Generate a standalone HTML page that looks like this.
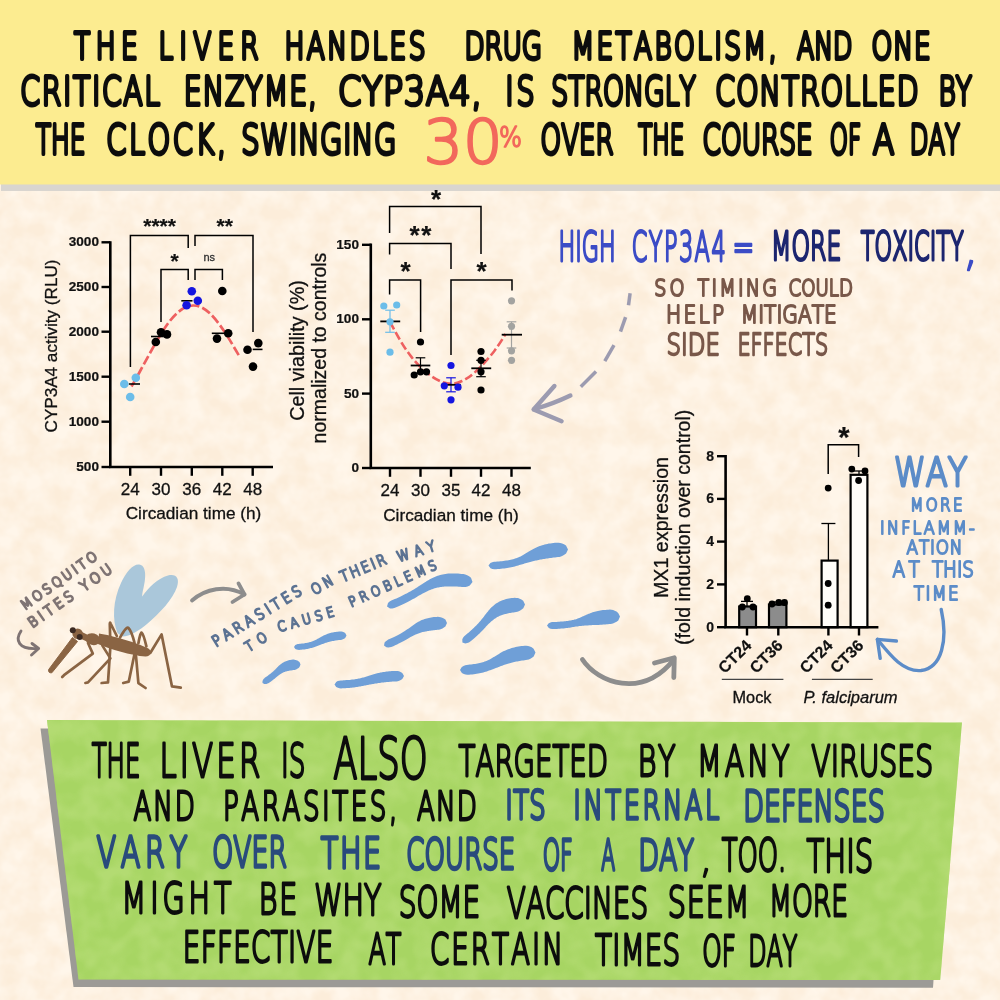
<!DOCTYPE html>
<html lang="en"><head><meta charset="utf-8"><title>Liver clock infographic</title>
<style>
html,body{margin:0;padding:0;background:#fdf0de;}
body{width:1000px;height:1000px;overflow:hidden;}
svg{display:block;font-family:"Liberation Sans",Arial,sans-serif;}
.hw text{font-family:"DejaVu Sans","Liberation Sans",sans-serif;font-weight:200;font-kerning:none;stroke-linejoin:round;stroke-linecap:round;paint-order:stroke;vector-effect:non-scaling-stroke;}
</style></head><body>
<svg width="1000" height="1000" viewBox="0 0 1000 1000">
<defs>
<filter id="paper" x="0" y="0" width="100%" height="100%">
<feTurbulence type="fractalNoise" baseFrequency="0.045" numOctaves="3" seed="7" result="n"/>
<feColorMatrix in="n" type="matrix" values="0 0 0 0 1  0 0 0 0 1  0 0 0 0 1  2.2 0 0 0 -0.6" result="m"/>
<feComposite in="SourceGraphic" in2="m" operator="in"/>
</filter>
<filter id="paper2" x="0" y="0" width="100%" height="100%">
<feTurbulence type="fractalNoise" baseFrequency="0.05" numOctaves="2" seed="11" result="n"/>
<feColorMatrix in="n" type="matrix" values="0 0 0 0 1  0 0 0 0 1  0 0 0 0 1  2.4 0 0 0 -0.8" result="m"/>
<feComposite in="SourceGraphic" in2="m" operator="in"/>
</filter>
</defs>
<rect width="1000" height="1000" fill="#fcedda"/>
<rect width="1000" height="1000" fill="#fff6ea" filter="url(#paper)"/>
<rect x="1" y="184" width="999" height="7" fill="#d9d5cf"/>
<rect x="0" y="0" width="1000" height="184.5" fill="#fcec90"/>
<polygon points="40.5,728.5 950,731 933,987.7 73.5,987" fill="#9c9a96"/>
<polygon points="47,720 962,722.6 940.2,980 78.5,979.6" fill="#a7d563"/>
<polygon points="47,720 962,722.6 940.2,980 78.5,979.6" fill="#b6dd76" opacity="0.8" filter="url(#paper2)"/>
<g class="hw">
<text transform="translate(74.12 58.64) scale(0.7200 1)" font-size="36.74" letter-spacing="7.49" textLength="95.75" lengthAdjust="spacing" fill="#0d0d0d" stroke="#0d0d0d" stroke-width="3.4">THE</text>
<text transform="translate(158.47 58.64) scale(0.7200 1)" font-size="36.74" letter-spacing="8.52" textLength="147.75" lengthAdjust="spacing" fill="#0d0d0d" stroke="#0d0d0d" stroke-width="3.4">LIVER</text>
<text transform="translate(284.48 58.64) scale(0.7200 1)" font-size="36.74" letter-spacing="3.38" textLength="199.18" lengthAdjust="spacing" fill="#0d0d0d" stroke="#0d0d0d" stroke-width="3.4">HANDLES</text>
<text transform="translate(464.53 58.64) scale(0.7104 1)" font-size="36.74" letter-spacing="0.00" textLength="109.16" lengthAdjust="spacing" fill="#0d0d0d" stroke="#0d0d0d" stroke-width="3.4">DRUG</text>
<text transform="translate(571.45 58.64) scale(0.7200 1)" font-size="36.74" letter-spacing="3.19" textLength="288.48" lengthAdjust="spacing" fill="#0d0d0d" stroke="#0d0d0d" stroke-width="3.4">METABOLISM,</text>
<text transform="translate(796.95 58.64) scale(0.6855 1)" font-size="36.74" letter-spacing="0.00" textLength="80.90" lengthAdjust="spacing" fill="#0d0d0d" stroke="#0d0d0d" stroke-width="3.4">AND</text>
<text transform="translate(871.54 58.64) scale(0.7200 1)" font-size="36.74" letter-spacing="1.25" textLength="83.36" lengthAdjust="spacing" fill="#0d0d0d" stroke="#0d0d0d" stroke-width="3.4">ONE</text>
<text transform="translate(20.34 105.14) scale(0.7200 1)" font-size="39.48" letter-spacing="2.18" textLength="196.41" lengthAdjust="spacing" fill="#0d0d0d" stroke="#0d0d0d" stroke-width="3.4">CRITICAL</text>
<text transform="translate(183.74 105.14) scale(0.7200 1)" font-size="39.48" letter-spacing="1.34" textLength="186.60" lengthAdjust="spacing" fill="#0d0d0d" stroke="#0d0d0d" stroke-width="3.4">ENZYME,</text>
<text transform="translate(337.91 105.14) scale(0.8500 1)" font-size="39.48" letter-spacing="0.67" textLength="169.97" lengthAdjust="spacing" fill="#0d0d0d" stroke="#0d0d0d" stroke-width="3.4">CYP3A4,</text>
<text transform="translate(505.26 105.14) scale(0.7200 1)" font-size="39.48" letter-spacing="4.07" textLength="44.85" lengthAdjust="spacing" fill="#0d0d0d" stroke="#0d0d0d" stroke-width="3.4">IS</text>
<text transform="translate(551.33 105.14) scale(0.6760 1)" font-size="39.48" letter-spacing="0.00" textLength="213.91" lengthAdjust="spacing" fill="#0d0d0d" stroke="#0d0d0d" stroke-width="3.4">STRONGLY</text>
<text transform="translate(715.34 105.14) scale(0.7200 1)" font-size="39.48" letter-spacing="1.36" textLength="283.77" lengthAdjust="spacing" fill="#0d0d0d" stroke="#0d0d0d" stroke-width="3.4">CONTROLLED</text>
<text transform="translate(938.45 105.14) scale(0.6700 1)" font-size="39.48" letter-spacing="0.00" textLength="49.97" lengthAdjust="spacing" fill="#0d0d0d" stroke="#0d0d0d" stroke-width="3.4">BY</text>
<text transform="translate(35.65 154.14) scale(0.6227 1)" font-size="40.16" letter-spacing="0.00" textLength="80.11" lengthAdjust="spacing" fill="#0d0d0d" stroke="#0d0d0d" stroke-width="3.4">THE</text>
<text transform="translate(106.30 154.14) scale(0.7200 1)" font-size="40.16" letter-spacing="3.47" textLength="169.99" lengthAdjust="spacing" fill="#0d0d0d" stroke="#0d0d0d" stroke-width="3.4">CLOCK,</text>
<text transform="translate(241.13 154.14) scale(0.7200 1)" font-size="40.16" letter-spacing="0.63" textLength="216.25" lengthAdjust="spacing" fill="#0d0d0d" stroke="#0d0d0d" stroke-width="3.4">SWINGING</text>
<text transform="translate(540.57 154.14) scale(0.6508 1)" font-size="40.16" letter-spacing="0.00" textLength="112.37" lengthAdjust="spacing" fill="#0d0d0d" stroke="#0d0d0d" stroke-width="3.4">OVER</text>
<text transform="translate(638.19 154.14) scale(0.5764 1)" font-size="40.16" letter-spacing="0.00" textLength="80.11" lengthAdjust="spacing" fill="#0d0d0d" stroke="#0d0d0d" stroke-width="3.4">THE</text>
<text transform="translate(702.51 154.14) scale(0.6563 1)" font-size="40.16" letter-spacing="0.00" textLength="167.84" lengthAdjust="spacing" fill="#0d0d0d" stroke="#0d0d0d" stroke-width="3.4">COURSE</text>
<text transform="translate(829.82 154.14) scale(0.5740 1)" font-size="40.16" letter-spacing="0.00" textLength="54.72" lengthAdjust="spacing" fill="#0d0d0d" stroke="#0d0d0d" stroke-width="3.4">OF</text>
<text transform="translate(872.76 154.14) scale(0.7857 1)" font-size="40.16" letter-spacing="0.00" textLength="27.48" lengthAdjust="spacing" fill="#0d0d0d" stroke="#0d0d0d" stroke-width="3.4">A</text>
<text transform="translate(909.75 154.14) scale(0.6043 1)" font-size="40.16" letter-spacing="0.00" textLength="82.94" lengthAdjust="spacing" fill="#0d0d0d" stroke="#0d0d0d" stroke-width="3.4">DAY</text>
<text transform="translate(423.46 163.04) scale(1.0281 1)" font-size="60.47" letter-spacing="0.00" textLength="76.94" lengthAdjust="spacing" fill="#f2685c" stroke="#f2685c" stroke-width="2.4">30</text>
<text transform="translate(499.02 147.36) scale(0.8513 1)" font-size="28.42" letter-spacing="0.00" textLength="27.01" lengthAdjust="spacing" fill="#f2685c" stroke="#f2685c" stroke-width="1.6">%</text>
</g>
<g class="hw">
<text transform="translate(91.66 776.54) scale(0.5236 1)" font-size="46.75" letter-spacing="0.00" textLength="93.25" lengthAdjust="spacing" fill="#0d0d0d" stroke="#0d0d0d" stroke-width="2.4">THE</text>
<text transform="translate(159.43 776.54) scale(0.6600 1)" font-size="46.75" letter-spacing="4.81" textLength="157.87" lengthAdjust="spacing" fill="#0d0d0d" stroke="#0d0d0d" stroke-width="2.4">LIVER</text>
<text transform="translate(281.02 776.54) scale(0.5620 1)" font-size="46.75" letter-spacing="0.00" textLength="43.46" lengthAdjust="spacing" fill="#0d0d0d" stroke="#0d0d0d" stroke-width="2.4">IS</text>
<text transform="translate(333.14 778.54) scale(0.6301 1)" font-size="56.35" letter-spacing="0.00" textLength="150.07" lengthAdjust="spacing" fill="#0d0d0d" stroke="#0d0d0d" stroke-width="2.4">ALSO</text>
<text transform="translate(458.59 775.54) scale(0.6381 1)" font-size="43.32" letter-spacing="0.00" textLength="234.32" lengthAdjust="spacing" fill="#0d0d0d" stroke="#0d0d0d" stroke-width="2.4">TARGETED</text>
<text transform="translate(637.68 775.54) scale(0.6600 1)" font-size="43.32" letter-spacing="2.43" textLength="59.68" lengthAdjust="spacing" fill="#0d0d0d" stroke="#0d0d0d" stroke-width="2.4">BY</text>
<text transform="translate(697.11 775.54) scale(0.6600 1)" font-size="43.32" letter-spacing="4.69" textLength="144.63" lengthAdjust="spacing" fill="#0d0d0d" stroke="#0d0d0d" stroke-width="2.4">MANY</text>
<text transform="translate(811.34 775.54) scale(0.6526 1)" font-size="43.32" letter-spacing="0.00" textLength="186.58" lengthAdjust="spacing" fill="#0d0d0d" stroke="#0d0d0d" stroke-width="2.4">VIRUSES</text>
<text transform="translate(133.42 819.64) scale(0.6600 1)" font-size="39.62" letter-spacing="3.02" textLength="96.29" lengthAdjust="spacing" fill="#0d0d0d" stroke="#0d0d0d" stroke-width="2.4">AND</text>
<text transform="translate(223.01 819.64) scale(0.6600 1)" font-size="39.62" letter-spacing="3.86" textLength="267.97" lengthAdjust="spacing" fill="#0d0d0d" stroke="#0d0d0d" stroke-width="2.4">PARASITES,</text>
<text transform="translate(416.92 819.64) scale(0.6600 1)" font-size="39.62" letter-spacing="1.88" textLength="92.88" lengthAdjust="spacing" fill="#0d0d0d" stroke="#0d0d0d" stroke-width="2.4">AND</text>
<text transform="translate(505.33 819.44) scale(0.6600 1)" font-size="39.07" letter-spacing="0.46" textLength="61.56" lengthAdjust="spacing" fill="#2a4b7c" stroke="#2a4b7c" stroke-width="2.9">ITS</text>
<text transform="translate(573.33 819.44) scale(0.6600 1)" font-size="39.07" letter-spacing="3.87" textLength="225.13" lengthAdjust="spacing" fill="#2a4b7c" stroke="#2a4b7c" stroke-width="2.9">INTERNAL</text>
<text transform="translate(743.18 821.44) scale(0.6439 1)" font-size="41.81" letter-spacing="0.00" textLength="219.85" lengthAdjust="spacing" fill="#2a4b7c" stroke="#2a4b7c" stroke-width="2.9">DEFENSES</text>
<text transform="translate(96.58 866.84) scale(0.6600 1)" font-size="43.46" letter-spacing="7.05" textLength="144.38" lengthAdjust="spacing" fill="#2a4b7c" stroke="#2a4b7c" stroke-width="2.9">VARY</text>
<text transform="translate(212.27 867.30) scale(0.6145 1)" font-size="43.46" letter-spacing="0.00" textLength="121.58" lengthAdjust="spacing" fill="#2a4b7c" stroke="#2a4b7c" stroke-width="2.9">OVER</text>
<text transform="translate(320.82 868.08) scale(0.6600 1)" font-size="43.46" letter-spacing="2.34" textLength="93.69" lengthAdjust="spacing" fill="#2a4b7c" stroke="#2a4b7c" stroke-width="2.9">THE</text>
<text transform="translate(406.28 868.71) scale(0.6008 1)" font-size="43.46" letter-spacing="0.00" textLength="181.59" lengthAdjust="spacing" fill="#2a4b7c" stroke="#2a4b7c" stroke-width="2.9">COURSE</text>
<text transform="translate(542.64 869.70) scale(0.5113 1)" font-size="43.46" letter-spacing="0.00" textLength="59.20" lengthAdjust="spacing" fill="#2a4b7c" stroke="#2a4b7c" stroke-width="2.9">OF</text>
<text transform="translate(601.35 870.12) scale(0.4668 1)" font-size="43.46" letter-spacing="0.00" textLength="29.73" lengthAdjust="spacing" fill="#2a4b7c" stroke="#2a4b7c" stroke-width="2.9">A</text>
<text transform="translate(638.15 870.40) scale(0.6245 1)" font-size="43.46" letter-spacing="0.00" textLength="89.74" lengthAdjust="spacing" fill="#2a4b7c" stroke="#2a4b7c" stroke-width="2.9">DAY</text>
<text transform="translate(721.63 871.19) scale(0.5868 1)" font-size="44.01" letter-spacing="0.00" textLength="110.14" lengthAdjust="spacing" fill="#0d0d0d" stroke="#0d0d0d" stroke-width="2.4">TOO.</text>
<text transform="translate(806.56 871.54) scale(0.6600 1)" font-size="44.01" letter-spacing="0.01" textLength="100.93" lengthAdjust="spacing" fill="#0d0d0d" stroke="#0d0d0d" stroke-width="2.4">THIS</text>
<text transform="translate(700.5 871) rotate(8) scale(0.8 1)" font-size="44" fill="#0d0d0d" stroke="#0d0d0d" stroke-width="2.2">,</text>
<text transform="translate(121.61 912.54) scale(0.6600 1)" font-size="43.32" letter-spacing="5.91" textLength="172.31" lengthAdjust="spacing" fill="#0d0d0d" stroke="#0d0d0d" stroke-width="2.4">MIGHT</text>
<text transform="translate(258.68 914.04) scale(0.6600 1)" font-size="43.32" letter-spacing="2.86" textLength="61.45" lengthAdjust="spacing" fill="#0d0d0d" stroke="#0d0d0d" stroke-width="2.4">BE</text>
<text transform="translate(314.22 915.04) scale(0.6600 1)" font-size="43.32" letter-spacing="0.01" textLength="101.91" lengthAdjust="spacing" fill="#0d0d0d" stroke="#0d0d0d" stroke-width="2.4">WHY</text>
<text transform="translate(398.71 916.54) scale(0.6458 1)" font-size="43.32" letter-spacing="0.00" textLength="126.34" lengthAdjust="spacing" fill="#0d0d0d" stroke="#0d0d0d" stroke-width="2.4">SOME</text>
<text transform="translate(506.86 917.54) scale(0.6424 1)" font-size="43.32" letter-spacing="0.00" textLength="219.81" lengthAdjust="spacing" fill="#0d0d0d" stroke="#0d0d0d" stroke-width="2.4">VACCINES</text>
<text transform="translate(667.66 917.04) scale(0.6600 1)" font-size="43.32" letter-spacing="1.41" textLength="125.25" lengthAdjust="spacing" fill="#0d0d0d" stroke="#0d0d0d" stroke-width="2.4">SEEM</text>
<text transform="translate(768.92 916.04) scale(0.6147 1)" font-size="43.32" letter-spacing="0.00" textLength="128.94" lengthAdjust="spacing" fill="#0d0d0d" stroke="#0d0d0d" stroke-width="2.4">MORE</text>
<text transform="translate(182.83 962.29) scale(0.6600 1)" font-size="41.95" letter-spacing="0.52" textLength="228.46" lengthAdjust="spacing" fill="#0d0d0d" stroke="#0d0d0d" stroke-width="2.4">EFFECTIVE</text>
<text transform="translate(368.44 963.63) scale(0.6060 1)" font-size="41.95" letter-spacing="0.00" textLength="54.32" lengthAdjust="spacing" fill="#0d0d0d" stroke="#0d0d0d" stroke-width="2.4">AT</text>
<text transform="translate(429.90 964.08) scale(0.6600 1)" font-size="41.95" letter-spacing="3.11" textLength="204.80" lengthAdjust="spacing" fill="#0d0d0d" stroke="#0d0d0d" stroke-width="2.4">CERTAIN</text>
<text transform="translate(595.09 965.27) scale(0.6600 1)" font-size="41.95" letter-spacing="0.35" textLength="129.09" lengthAdjust="spacing" fill="#0d0d0d" stroke="#0d0d0d" stroke-width="2.4">TIMES</text>
<text transform="translate(702.18 966.06) scale(0.5894 1)" font-size="41.95" letter-spacing="0.00" textLength="57.15" lengthAdjust="spacing" fill="#0d0d0d" stroke="#0d0d0d" stroke-width="2.4">OF</text>
<text transform="translate(748.31 966.40) scale(0.5662 1)" font-size="41.95" letter-spacing="0.00" textLength="86.62" lengthAdjust="spacing" fill="#0d0d0d" stroke="#0d0d0d" stroke-width="2.4">DAY</text>
</g>
<g id="chart1">
<polyline points="110.3,241.2 110.3,467 273,467" fill="none" stroke="#000" stroke-width="2.6"/>
<line x1="101.5" y1="242.3" x2="110.3" y2="242.3" stroke="#000" stroke-width="2.4" />
<text x="99.0" y="246.4" font-size="13.6" text-anchor="end" fill="#111" font-weight="bold" stroke="#111" stroke-width="0.2" >3000</text>
<line x1="101.5" y1="287.0" x2="110.3" y2="287.0" stroke="#000" stroke-width="2.4" />
<text x="99.0" y="291.1" font-size="13.6" text-anchor="end" fill="#111" font-weight="bold" stroke="#111" stroke-width="0.2" >2500</text>
<line x1="101.5" y1="331.7" x2="110.3" y2="331.7" stroke="#000" stroke-width="2.4" />
<text x="99.0" y="335.8" font-size="13.6" text-anchor="end" fill="#111" font-weight="bold" stroke="#111" stroke-width="0.2" >2000</text>
<line x1="101.5" y1="376.7" x2="110.3" y2="376.7" stroke="#000" stroke-width="2.4" />
<text x="99.0" y="380.8" font-size="13.6" text-anchor="end" fill="#111" font-weight="bold" stroke="#111" stroke-width="0.2" >1500</text>
<line x1="101.5" y1="421.7" x2="110.3" y2="421.7" stroke="#000" stroke-width="2.4" />
<text x="99.0" y="425.8" font-size="13.6" text-anchor="end" fill="#111" font-weight="bold" stroke="#111" stroke-width="0.2" >1000</text>
<line x1="101.5" y1="467.0" x2="110.3" y2="467.0" stroke="#000" stroke-width="2.4" />
<text x="99.0" y="471.1" font-size="13.6" text-anchor="end" fill="#111" font-weight="bold" stroke="#111" stroke-width="0.2" >500</text>
<line x1="130.2" y1="467.0" x2="130.2" y2="475.8" stroke="#000" stroke-width="2.4" />
<text x="130.2" y="495.0" font-size="17" text-anchor="middle" fill="#111" stroke="#111" stroke-width="0.3" >24</text>
<line x1="161.0" y1="467.0" x2="161.0" y2="475.8" stroke="#000" stroke-width="2.4" />
<text x="161.0" y="495.0" font-size="17" text-anchor="middle" fill="#111" stroke="#111" stroke-width="0.3" >30</text>
<line x1="191.8" y1="467.0" x2="191.8" y2="475.8" stroke="#000" stroke-width="2.4" />
<text x="191.8" y="495.0" font-size="17" text-anchor="middle" fill="#111" stroke="#111" stroke-width="0.3" >36</text>
<line x1="222.3" y1="467.0" x2="222.3" y2="475.8" stroke="#000" stroke-width="2.4" />
<text x="222.3" y="495.0" font-size="17" text-anchor="middle" fill="#111" stroke="#111" stroke-width="0.3" >42</text>
<line x1="252.7" y1="467.0" x2="252.7" y2="475.8" stroke="#000" stroke-width="2.4" />
<text x="252.7" y="495.0" font-size="17" text-anchor="middle" fill="#111" stroke="#111" stroke-width="0.3" >48</text>
<text x="193.5" y="519.0" font-size="17.2" text-anchor="middle" fill="#111" stroke="#111" stroke-width="0.3" >Circadian time (h)</text>
<text x="57.0" y="346.0" font-size="17.1" text-anchor="middle" fill="#111" transform="rotate(-90 57.0 346.0)" stroke="#111" stroke-width="0.3" >CYP3A4 activity (RLU)</text>
<path d="M131.5,386.5 C140,372 150,352 161,334 C172,316 182,306 193,305.5 C204,305 214,316 224,331 C230,340 235,349 239.8,357" fill="none" stroke="#ee6060" stroke-width="2.7" stroke-dasharray="9.5 3.2"/>
<polyline points="130.4,367.0 130.4,235.4 188.2,235.4 188.2,248.0" fill="none" stroke="#000" stroke-width="1.5"/>
<polyline points="195.0,246.0 195.0,235.4 253.0,235.4 253.0,332.0" fill="none" stroke="#000" stroke-width="1.5"/>
<polyline points="161.0,322.0 161.0,269.6 188.2,269.6 188.2,280.0" fill="none" stroke="#000" stroke-width="1.5"/>
<polyline points="195.0,280.0 195.0,269.6 222.4,269.6 222.4,280.0" fill="none" stroke="#000" stroke-width="1.5"/>
<text x="159.6" y="233.2" font-size="21" text-anchor="middle" fill="#111" font-weight="bold" stroke="#111" stroke-width="0.2" >****</text>
<text x="224.7" y="233.2" font-size="21" text-anchor="middle" fill="#111" font-weight="bold" stroke="#111" stroke-width="0.2" >**</text>
<text x="174.7" y="268.4" font-size="21" text-anchor="middle" fill="#111" font-weight="bold" stroke="#111" stroke-width="0.2" >*</text>
<text x="209.3" y="261.0" font-size="11" text-anchor="middle" fill="#333" stroke="#333" stroke-width="0.3" >ns</text>
<line x1="128.8" y1="384.0" x2="140.0" y2="384.0" stroke="#000" stroke-width="1.6" />
<line x1="151.0" y1="336.5" x2="163.8" y2="336.5" stroke="#000" stroke-width="1.6" />
<line x1="181.3" y1="300.8" x2="192.5" y2="300.8" stroke="#000" stroke-width="1.6" />
<line x1="211.8" y1="333.3" x2="224.0" y2="333.3" stroke="#000" stroke-width="1.6" />
<line x1="252.7" y1="349.4" x2="262.5" y2="349.4" stroke="#000" stroke-width="1.6" />
<circle cx="124.3" cy="384.0" r="4.3" fill="#6cbde9"/>
<circle cx="135.8" cy="377.7" r="4.3" fill="#6cbde9"/>
<circle cx="130.2" cy="397.0" r="4.3" fill="#6cbde9"/>
<circle cx="155.8" cy="342.0" r="4.3" fill="#000"/>
<circle cx="161.0" cy="332.3" r="4.3" fill="#000"/>
<circle cx="167.0" cy="334.4" r="4.3" fill="#000"/>
<circle cx="191.8" cy="291.3" r="4.3" fill="#1515e0"/>
<circle cx="186.6" cy="305.3" r="4.3" fill="#1515e0"/>
<circle cx="197.8" cy="300.8" r="4.3" fill="#1515e0"/>
<circle cx="222.3" cy="291.0" r="4.3" fill="#000"/>
<circle cx="217.0" cy="338.6" r="4.3" fill="#000"/>
<circle cx="228.2" cy="333.3" r="4.3" fill="#000"/>
<circle cx="247.5" cy="349.8" r="4.3" fill="#000"/>
<circle cx="258.3" cy="343.1" r="4.3" fill="#000"/>
<circle cx="253.0" cy="366.6" r="4.3" fill="#000"/>
</g>
<g id="chart2">
<polyline points="370.8,243.6 370.8,468 530.8,468" fill="none" stroke="#000" stroke-width="2.6"/>
<line x1="362.0" y1="244.8" x2="370.8" y2="244.8" stroke="#000" stroke-width="2.4" />
<text x="359.0" y="248.9" font-size="13.6" text-anchor="end" fill="#111" font-weight="bold" stroke="#111" stroke-width="0.2" >150</text>
<line x1="362.0" y1="319.3" x2="370.8" y2="319.3" stroke="#000" stroke-width="2.4" />
<text x="359.0" y="323.4" font-size="13.6" text-anchor="end" fill="#111" font-weight="bold" stroke="#111" stroke-width="0.2" >100</text>
<line x1="362.0" y1="393.6" x2="370.8" y2="393.6" stroke="#000" stroke-width="2.4" />
<text x="359.0" y="397.7" font-size="13.6" text-anchor="end" fill="#111" font-weight="bold" stroke="#111" stroke-width="0.2" >50</text>
<line x1="362.0" y1="468.0" x2="370.8" y2="468.0" stroke="#000" stroke-width="2.4" />
<text x="359.0" y="472.1" font-size="13.6" text-anchor="end" fill="#111" font-weight="bold" stroke="#111" stroke-width="0.2" >0</text>
<line x1="390.0" y1="468.0" x2="390.0" y2="476.8" stroke="#000" stroke-width="2.4" />
<text x="390.0" y="495.5" font-size="17" text-anchor="middle" fill="#111" stroke="#111" stroke-width="0.3" >24</text>
<line x1="420.5" y1="468.0" x2="420.5" y2="476.8" stroke="#000" stroke-width="2.4" />
<text x="420.5" y="495.5" font-size="17" text-anchor="middle" fill="#111" stroke="#111" stroke-width="0.3" >30</text>
<line x1="451.0" y1="468.0" x2="451.0" y2="476.8" stroke="#000" stroke-width="2.4" />
<text x="451.0" y="495.5" font-size="17" text-anchor="middle" fill="#111" stroke="#111" stroke-width="0.3" >35</text>
<line x1="481.0" y1="468.0" x2="481.0" y2="476.8" stroke="#000" stroke-width="2.4" />
<text x="481.0" y="495.5" font-size="17" text-anchor="middle" fill="#111" stroke="#111" stroke-width="0.3" >42</text>
<line x1="511.5" y1="468.0" x2="511.5" y2="476.8" stroke="#000" stroke-width="2.4" />
<text x="511.5" y="495.5" font-size="17" text-anchor="middle" fill="#111" stroke="#111" stroke-width="0.3" >48</text>
<text x="451.0" y="521.0" font-size="17.2" text-anchor="middle" fill="#111" stroke="#111" stroke-width="0.3" >Circadian time (h)</text>
<text x="304.3" y="350.5" font-size="19.8" text-anchor="middle" fill="#111" transform="rotate(-90 304.3 350.5)" stroke="#111" stroke-width="0.3" >Cell viability (%)</text>
<text x="326.0" y="348.0" font-size="19.5" text-anchor="middle" fill="#111" transform="rotate(-90 326.0 348.0)" stroke="#111" stroke-width="0.3" >normalized to controls</text>
<path d="M390,321.8 C397,335 403,346 410,355 C418,366 430,377 441,381.5 C448,384.5 455,384.5 462,381 C472,377 484,364 494,351.5 C498,346 502,340 505.5,334" fill="none" stroke="#ee6060" stroke-width="2.6" stroke-dasharray="8.5 3.2"/>
<polyline points="389.6,233.0 389.6,206.6 481.0,206.6 481.0,254.0" fill="none" stroke="#000" stroke-width="1.5"/>
<polyline points="389.6,254.6 389.6,243.4 451.0,243.4 451.0,269.0" fill="none" stroke="#000" stroke-width="1.5"/>
<polyline points="389.6,294.6 389.6,280.0 420.6,280.0 420.6,332.0" fill="none" stroke="#000" stroke-width="1.5"/>
<polyline points="451.0,355.0 451.0,280.0 512.0,280.0 512.0,290.6" fill="none" stroke="#000" stroke-width="1.5"/>
<text x="436.0" y="207.6" font-size="26" text-anchor="middle" fill="#111" font-weight="bold" stroke="#111" stroke-width="0.2" >*</text>
<text x="421.2" y="243.8" font-size="26" text-anchor="middle" fill="#111" font-weight="bold" stroke="#111" stroke-width="0.2" letter-spacing="1.5">**</text>
<text x="405.6" y="279.8" font-size="26" text-anchor="middle" fill="#111" font-weight="bold" stroke="#111" stroke-width="0.2" >*</text>
<text x="481.6" y="279.8" font-size="26" text-anchor="middle" fill="#111" font-weight="bold" stroke="#111" stroke-width="0.2" >*</text>
<line x1="390.0" y1="310.2" x2="390.0" y2="332.3" stroke="#6cbde9" stroke-width="1.2" />
<line x1="385.2" y1="310.2" x2="394.8" y2="310.2" stroke="#6cbde9" stroke-width="1.2" />
<line x1="385.2" y1="332.3" x2="394.8" y2="332.3" stroke="#6cbde9" stroke-width="1.2" />
<line x1="420.5" y1="357.8" x2="420.5" y2="373.2" stroke="#000" stroke-width="1.2" />
<line x1="415.7" y1="357.8" x2="425.3" y2="357.8" stroke="#000" stroke-width="1.2" />
<line x1="415.7" y1="373.2" x2="425.3" y2="373.2" stroke="#000" stroke-width="1.2" />
<line x1="451.0" y1="377.8" x2="451.0" y2="391.8" stroke="#1515e0" stroke-width="1.2" />
<line x1="446.2" y1="377.8" x2="455.8" y2="377.8" stroke="#1515e0" stroke-width="1.2" />
<line x1="446.2" y1="391.8" x2="455.8" y2="391.8" stroke="#1515e0" stroke-width="1.2" />
<line x1="481.0" y1="360.3" x2="481.0" y2="376.7" stroke="#000" stroke-width="1.2" />
<line x1="476.2" y1="360.3" x2="485.8" y2="360.3" stroke="#000" stroke-width="1.2" />
<line x1="476.2" y1="376.7" x2="485.8" y2="376.7" stroke="#000" stroke-width="1.2" />
<line x1="511.5" y1="321.8" x2="511.5" y2="348.0" stroke="#a3a3a0" stroke-width="1.2" />
<line x1="506.7" y1="321.8" x2="516.3" y2="321.8" stroke="#a3a3a0" stroke-width="1.2" />
<line x1="506.7" y1="348.0" x2="516.3" y2="348.0" stroke="#a3a3a0" stroke-width="1.2" />
<line x1="380.3" y1="321.4" x2="400.2" y2="321.4" stroke="#000" stroke-width="1.8" />
<line x1="410.7" y1="365.5" x2="430.3" y2="365.5" stroke="#000" stroke-width="1.8" />
<line x1="441.5" y1="384.8" x2="460.8" y2="384.8" stroke="#000" stroke-width="1.8" />
<line x1="471.3" y1="368.3" x2="491.2" y2="368.3" stroke="#000" stroke-width="1.8" />
<line x1="501.7" y1="334.7" x2="522.0" y2="334.7" stroke="#000" stroke-width="1.8" />
<circle cx="383.8" cy="306.0" r="3.6" fill="#6cbde9"/>
<circle cx="396.7" cy="305.0" r="3.6" fill="#6cbde9"/>
<circle cx="390.0" cy="321.8" r="3.6" fill="#6cbde9"/>
<circle cx="390.0" cy="352.2" r="3.6" fill="#6cbde9"/>
<circle cx="420.5" cy="342.0" r="3.6" fill="#000"/>
<circle cx="414.2" cy="375.0" r="3.6" fill="#000"/>
<circle cx="420.5" cy="371.8" r="3.6" fill="#000"/>
<circle cx="426.5" cy="371.8" r="3.6" fill="#000"/>
<circle cx="451.0" cy="365.5" r="3.6" fill="#1515e0"/>
<circle cx="444.3" cy="385.8" r="3.6" fill="#1515e0"/>
<circle cx="458.0" cy="387.2" r="3.6" fill="#1515e0"/>
<circle cx="451.0" cy="399.8" r="3.6" fill="#1515e0"/>
<circle cx="481.0" cy="351.5" r="3.6" fill="#000"/>
<circle cx="481.0" cy="360.3" r="3.6" fill="#000"/>
<circle cx="481.0" cy="371.8" r="3.6" fill="#000"/>
<circle cx="481.0" cy="390.0" r="3.6" fill="#000"/>
<circle cx="511.5" cy="300.8" r="3.6" fill="#a3a3a0"/>
<circle cx="511.5" cy="326.3" r="3.6" fill="#a3a3a0"/>
<circle cx="511.5" cy="350.8" r="3.6" fill="#a3a3a0"/>
<circle cx="511.5" cy="360.3" r="3.6" fill="#a3a3a0"/>
</g>
<g id="chart3">
<rect x="739.2" y="606.5" width="16.8" height="20.7" fill="#8c8c8c" stroke="#000" stroke-width="2.2"/>
<rect x="769" y="604.5" width="17.4" height="22.7" fill="#8c8c8c" stroke="#000" stroke-width="2.2"/>
<rect x="821.6" y="560.6" width="16.0" height="66.6" fill="#fffdf9" stroke="#000" stroke-width="2.2"/>
<rect x="850.6" y="474.8" width="16.8" height="152.4" fill="#fffdf9" stroke="#000" stroke-width="2.2"/>
<polyline points="725.6,455 725.6,627.2 878.4,627.2" fill="none" stroke="#000" stroke-width="2.6"/>
<line x1="717.0" y1="456.2" x2="725.6" y2="456.2" stroke="#000" stroke-width="2.4" />
<text x="714.0" y="460.6" font-size="14" text-anchor="end" fill="#111" font-weight="bold" stroke="#111" stroke-width="0.2" >8</text>
<line x1="717.0" y1="498.9" x2="725.6" y2="498.9" stroke="#000" stroke-width="2.4" />
<text x="714.0" y="503.3" font-size="14" text-anchor="end" fill="#111" font-weight="bold" stroke="#111" stroke-width="0.2" >6</text>
<line x1="717.0" y1="541.6" x2="725.6" y2="541.6" stroke="#000" stroke-width="2.4" />
<text x="714.0" y="546.0" font-size="14" text-anchor="end" fill="#111" font-weight="bold" stroke="#111" stroke-width="0.2" >4</text>
<line x1="717.0" y1="584.4" x2="725.6" y2="584.4" stroke="#000" stroke-width="2.4" />
<text x="714.0" y="588.8" font-size="14" text-anchor="end" fill="#111" font-weight="bold" stroke="#111" stroke-width="0.2" >2</text>
<line x1="717.0" y1="627.2" x2="725.6" y2="627.2" stroke="#000" stroke-width="2.4" />
<text x="714.0" y="631.6" font-size="14" text-anchor="end" fill="#111" font-weight="bold" stroke="#111" stroke-width="0.2" >0</text>
<line x1="747.0" y1="607.0" x2="747.0" y2="601.4" stroke="#000" stroke-width="1.3" />
<line x1="741.0" y1="601.4" x2="753.0" y2="601.4" stroke="#000" stroke-width="1.3" />
<line x1="778.3" y1="604.0" x2="778.3" y2="602.0" stroke="#000" stroke-width="1.3" />
<line x1="772.3" y1="602.0" x2="784.3" y2="602.0" stroke="#000" stroke-width="1.3" />
<line x1="828.4" y1="560.3" x2="828.4" y2="523.5" stroke="#000" stroke-width="1.3" />
<line x1="821.4" y1="523.5" x2="835.4" y2="523.5" stroke="#000" stroke-width="1.3" />
<line x1="859.0" y1="474.0" x2="859.0" y2="471.0" stroke="#000" stroke-width="1.3" />
<line x1="852.0" y1="471.0" x2="866.0" y2="471.0" stroke="#000" stroke-width="1.3" />
<circle cx="747.3" cy="598.7" r="3.4" fill="#000"/>
<circle cx="742.3" cy="607.0" r="3.4" fill="#000"/>
<circle cx="753.0" cy="607.0" r="3.4" fill="#000"/>
<circle cx="772.0" cy="604.0" r="3.4" fill="#000"/>
<circle cx="778.8" cy="602.5" r="3.4" fill="#000"/>
<circle cx="784.5" cy="602.5" r="3.4" fill="#000"/>
<circle cx="828.2" cy="488.1" r="3.4" fill="#000"/>
<circle cx="828.2" cy="583.5" r="3.4" fill="#000"/>
<circle cx="828.2" cy="605.2" r="3.4" fill="#000"/>
<circle cx="851.8" cy="469.1" r="3.4" fill="#000"/>
<circle cx="858.6" cy="480.5" r="3.4" fill="#000"/>
<circle cx="865.0" cy="471.0" r="3.4" fill="#000"/>
<polyline points="828.2,474.0 828.2,444.8 858.6,444.8 858.6,457.0" fill="none" stroke="#000" stroke-width="1.5"/>
<text x="844.0" y="447.0" font-size="29" text-anchor="middle" fill="#111" font-weight="bold" stroke="#111" stroke-width="0.2" >*</text>
<line x1="747.0" y1="627.2" x2="747.0" y2="635.5" stroke="#000" stroke-width="2.4" />
<text x="752.5" y="646.5" font-size="16" text-anchor="end" fill="#111" font-weight="bold" transform="rotate(-45 752.5 646.5)" stroke="#111" stroke-width="0.2" >CT24</text>
<line x1="778.3" y1="627.2" x2="778.3" y2="635.5" stroke="#000" stroke-width="2.4" />
<text x="783.8" y="646.5" font-size="16" text-anchor="end" fill="#111" font-weight="bold" transform="rotate(-45 783.8 646.5)" stroke="#111" stroke-width="0.2" >CT36</text>
<line x1="828.4" y1="627.2" x2="828.4" y2="635.5" stroke="#000" stroke-width="2.4" />
<text x="833.9" y="646.5" font-size="16" text-anchor="end" fill="#111" font-weight="bold" transform="rotate(-45 833.9 646.5)" stroke="#111" stroke-width="0.2" >CT24</text>
<line x1="859.0" y1="627.2" x2="859.0" y2="635.5" stroke="#000" stroke-width="2.4" />
<text x="864.5" y="646.5" font-size="16" text-anchor="end" fill="#111" font-weight="bold" transform="rotate(-45 864.5 646.5)" stroke="#111" stroke-width="0.2" >CT36</text>
<line x1="721.8" y1="679.3" x2="783.4" y2="679.3" stroke="#444" stroke-width="1.2" />
<line x1="811.9" y1="679.3" x2="872.7" y2="679.3" stroke="#444" stroke-width="1.2" />
<text x="752.0" y="702.8" font-size="16.3" text-anchor="middle" fill="#111" stroke="#111" stroke-width="0.3" >Mock</text>
<text x="850.5" y="702.8" font-size="16.5" text-anchor="middle" fill="#111" font-style="italic" stroke="#111" stroke-width="0.3" >P. falciparum</text>
<text x="667.5" y="527.5" font-size="19.7" text-anchor="middle" fill="#111" transform="rotate(-90 667.5 527.5)" stroke="#111" stroke-width="0.3" >MX1 expression</text>
<text x="690.0" y="527.3" font-size="19.5" text-anchor="middle" fill="#111" transform="rotate(-90 690.0 527.3)" stroke="#111" stroke-width="0.3" >(fold induction over control)</text>
</g>
<g class="hw">
<text transform="translate(558.45 260.58) scale(0.5552 1)" font-size="40.00" letter-spacing="0.00" textLength="102.95" lengthAdjust="spacing" fill="#3c4cc6" stroke="#3c4cc6" stroke-width="2.3">HIGH</text>
<text transform="translate(631.79 260.58) scale(0.5600 1)" font-size="40.00" letter-spacing="2.57" textLength="170.16" lengthAdjust="spacing" fill="#3c4cc6" stroke="#3c4cc6" stroke-width="2.3">CYP3A4</text>
<text transform="translate(732.41 260.58) scale(0.6470 1)" font-size="40.00" letter-spacing="0.00" textLength="33.52" lengthAdjust="spacing" fill="#3c4cc6" stroke="#3c4cc6" stroke-width="2.3">=</text>
<text transform="translate(771.01 260.46) scale(0.5954 1)" font-size="39.67" letter-spacing="0.00" textLength="118.08" lengthAdjust="spacing" fill="#1d2670" stroke="#1d2670" stroke-width="2.6">MORE</text>
<text transform="translate(860.81 260.46) scale(0.5649 1)" font-size="39.67" letter-spacing="0.00" textLength="182.20" lengthAdjust="spacing" fill="#1d2670" stroke="#1d2670" stroke-width="2.6">TOXICITY</text>
<text transform="translate(964 263) rotate(10) scale(0.8 1)" font-size="54" fill="#3c4cc6" stroke="#3c4cc6" stroke-width="2">,</text>
<text transform="translate(654.30 296.20) scale(0.8000 1)" font-size="23.87" letter-spacing="3.88" textLength="41.70" lengthAdjust="spacing" fill="#79584a" stroke="#79584a" stroke-width="2.0">SO</text>
<text transform="translate(697.58 296.20) scale(0.8000 1)" font-size="23.87" letter-spacing="2.74" textLength="102.06" lengthAdjust="spacing" fill="#79584a" stroke="#79584a" stroke-width="2.0">TIMING</text>
<text transform="translate(788.49 296.20) scale(0.7628 1)" font-size="23.87" letter-spacing="0.00" textLength="84.60" lengthAdjust="spacing" fill="#79584a" stroke="#79584a" stroke-width="2.0">COULD</text>
<text transform="translate(666.05 322.70) scale(0.8000 1)" font-size="25.24" letter-spacing="2.85" textLength="75.59" lengthAdjust="spacing" fill="#79584a" stroke="#79584a" stroke-width="2.0">HELP</text>
<text transform="translate(740.76 322.70) scale(0.7985 1)" font-size="25.24" letter-spacing="0.00" textLength="120.27" lengthAdjust="spacing" fill="#79584a" stroke="#79584a" stroke-width="2.0">MITIGATE</text>
<text transform="translate(666.46 355.20) scale(0.7481 1)" font-size="30.73" letter-spacing="0.00" textLength="71.64" lengthAdjust="spacing" fill="#79584a" stroke="#79584a" stroke-width="2.0">SIDE</text>
<text transform="translate(737.47 355.20) scale(0.6776 1)" font-size="30.73" letter-spacing="0.00" textLength="133.90" lengthAdjust="spacing" fill="#79584a" stroke="#79584a" stroke-width="2.0">EFFECTS</text>
<text transform="translate(894.08 486.46) scale(0.8219 1)" font-size="38.98" letter-spacing="0.00" textLength="89.03" lengthAdjust="spacing" fill="#5c8cc8" stroke="#5c8cc8" stroke-width="2.6">WAY</text>
<text transform="translate(910.26 510.68) scale(0.8800 1)" font-size="17.23" letter-spacing="2.75" textLength="62.28" lengthAdjust="spacing" fill="#5c8cc8" stroke="#5c8cc8" stroke-width="1.8">MORE</text>
<text transform="translate(879.98 534.48) scale(0.8800 1)" font-size="18.05" letter-spacing="2.62" textLength="110.23" lengthAdjust="spacing" fill="#5c8cc8" stroke="#5c8cc8" stroke-width="1.8">INFLAMM-</text>
<text transform="translate(906.60 554.08) scale(0.8800 1)" font-size="19.15" letter-spacing="0.91" textLength="64.40" lengthAdjust="spacing" fill="#5c8cc8" stroke="#5c8cc8" stroke-width="1.8">ATION</text>
<text transform="translate(892.55 577.08) scale(0.8800 1)" font-size="21.07" letter-spacing="3.58" textLength="34.44" lengthAdjust="spacing" fill="#5c8cc8" stroke="#5c8cc8" stroke-width="1.8">AT</text>
<text transform="translate(931.90 577.08) scale(0.8716 1)" font-size="21.07" letter-spacing="0.00" textLength="48.30" lengthAdjust="spacing" fill="#5c8cc8" stroke="#5c8cc8" stroke-width="1.8">THIS</text>
<text transform="translate(913.73 600.28) scale(0.8800 1)" font-size="19.15" letter-spacing="1.68" textLength="52.67" lengthAdjust="spacing" fill="#5c8cc8" stroke="#5c8cc8" stroke-width="1.8">TIME</text>
<text transform="rotate(-35.3 59.0 580.2) translate(13.53 585.24) scale(0.9200 1)" font-size="13.69" letter-spacing="3.22" textLength="100.99" lengthAdjust="spacing" fill="#7f7474" stroke="#7f7474" stroke-width="1.9">MOSQUITO</text>
<text transform="rotate(-35 69.8 595.5) translate(20.32 600.74) scale(0.9200 1)" font-size="14.38" letter-spacing="3.93" textLength="111.22" lengthAdjust="spacing" fill="#7f7474" stroke="#7f7474" stroke-width="1.9">BITES YOU</text>
<text transform="rotate(-31.6 256.8 615.6) translate(205.57 621.13) scale(0.8800 1)" font-size="15.17" letter-spacing="4.10" textLength="119.91" lengthAdjust="spacing" fill="#5c7393" stroke="#5c7393" stroke-width="1.8">PARASITES</text>
<text transform="rotate(-30 321.5 585.0) translate(310.36 590.28) scale(0.8800 1)" font-size="14.49" letter-spacing="4.10" textLength="30.45" lengthAdjust="spacing" fill="#5c7393" stroke="#5c7393" stroke-width="1.8">ON</text>
<text transform="rotate(-22.6 362.8 567.8) translate(338.66 573.33) scale(0.8800 1)" font-size="15.17" letter-spacing="2.52" textLength="57.87" lengthAdjust="spacing" fill="#5c7393" stroke="#5c7393" stroke-width="1.8">THEIR</text>
<text transform="rotate(-17.5 416.2 551.0) translate(396.22 556.28) scale(0.8800 1)" font-size="14.49" letter-spacing="5.84" textLength="50.59" lengthAdjust="spacing" fill="#5c7393" stroke="#5c7393" stroke-width="1.8">WAY</text>
<text transform="rotate(-32 255.6 641.8) translate(244.48 646.83) scale(0.8800 1)" font-size="13.80" letter-spacing="6.80" textLength="32.88" lengthAdjust="spacing" fill="#5c7393" stroke="#5c7393" stroke-width="1.8">TO</text>
<text transform="rotate(-16 305.7 619.2) translate(276.59 624.23) scale(0.8800 1)" font-size="13.80" letter-spacing="4.90" textLength="71.14" lengthAdjust="spacing" fill="#5c7393" stroke="#5c7393" stroke-width="1.8">CAUSE</text>
<text transform="rotate(-24 392.7 583.2) translate(345.12 588.23) scale(0.8800 1)" font-size="13.80" letter-spacing="4.67" textLength="112.25" lengthAdjust="spacing" fill="#5c7393" stroke="#5c7393" stroke-width="1.8">PROBLEMS</text>
</g>
<line x1="630.1" y1="293.2" x2="628.5" y2="305.2" stroke="#9c9bb0" stroke-width="3.5" stroke-linecap="butt"/>
<line x1="625.6" y1="317.2" x2="620.5" y2="331.6" stroke="#9c9bb0" stroke-width="3.5" stroke-linecap="butt"/>
<line x1="614.0" y1="345.2" x2="604.8" y2="361.2" stroke="#9c9bb0" stroke-width="3.5" stroke-linecap="butt"/>
<line x1="596.0" y1="371.6" x2="580.8" y2="386.8" stroke="#9c9bb0" stroke-width="3.5" stroke-linecap="butt"/>
<path d="M570.4,395.6 Q553,404 534.4,409.2" fill="none" stroke="#9c9bb0" stroke-width="4.4" stroke-linecap="round" stroke-linejoin="round"/>
<polyline points="554.4,386 533.6,409.5 561.6,421.2" fill="none" stroke="#9c9bb0" stroke-width="4.4" stroke-linecap="round" stroke-linejoin="round"/>
<path d="M192,600.5 C205,589 226,584 244.5,594.5" fill="none" stroke="#8d8d8d" stroke-width="3.8" stroke-linecap="round" stroke-linejoin="round"/>
<polyline points="238.5,583.4 244.5,594.5 232.5,602" fill="none" stroke="#8d8d8d" stroke-width="3.8" stroke-linecap="round" stroke-linejoin="round"/>
<path d="M582.4,659.5 C598,683 642,699 673.5,660" fill="none" stroke="#8d8d8d" stroke-width="4.8" stroke-linecap="round" stroke-linejoin="round"/>
<polyline points="654.5,663 674.3,657.8 673.8,677.5" fill="none" stroke="#8d8d8d" stroke-width="4.8" stroke-linecap="round" stroke-linejoin="round"/>
<path d="M21,631 C15,640 18,650 38,648.5" fill="none" stroke="#7f7474" stroke-width="2.9" stroke-linecap="round" stroke-linejoin="round"/>
<polyline points="32,643.5 38.6,648.5 31.5,655" fill="none" stroke="#7f7474" stroke-width="2.9" stroke-linecap="round" stroke-linejoin="round"/>
<path d="M941.2,609.4 C948,640 942,668 921,670.5 C903,672 890,655 877.4,639.4" fill="none" stroke="#5c8cc8" stroke-width="3.4" stroke-linecap="round" stroke-linejoin="round"/>
<polyline points="896.4,641 877.4,639.4 880.2,658.4" fill="none" stroke="#5c8cc8" stroke-width="3.4" stroke-linecap="round" stroke-linejoin="round"/>
<polygon points="488.5,565.6 490.5,568.2 492.4,568.9 494.3,569.2 496.1,569.2 497.8,569.1 499.5,568.9 501.1,568.8 502.7,568.6 504.2,568.5 505.7,568.3 507.1,568.0 508.5,567.8 509.9,567.6 511.2,567.3 512.5,567.0 513.7,566.7 514.9,566.4 516.0,566.1 517.2,565.8 518.3,565.4 519.3,565.1 520.4,564.8 521.4,564.5 522.4,564.2 523.5,563.9 524.4,563.6 525.4,563.3 526.4,563.0 527.3,562.7 528.3,562.5 529.2,562.2 530.2,562.0 531.1,561.7 532.0,561.5 532.9,561.2 533.8,561.0 534.8,560.8 535.7,560.6 536.6,560.4 537.5,560.2 538.5,560.0 539.4,559.8 540.4,559.6 541.3,559.4 542.3,559.3 543.3,559.1 544.3,558.9 545.4,558.8 546.4,558.6 547.6,558.4 548.7,558.3 549.9,558.1 551.1,557.9 552.3,557.7 553.6,557.6 555.0,557.4 556.4,557.3 557.9,557.1 559.4,556.9 561.0,556.4 562.6,555.8 564.3,554.8 566.1,553.4 568.0,549.5 568.0,549.5 566.0,545.6 564.0,544.2 562.1,543.4 560.3,542.9 558.5,542.7 556.7,542.7 555.0,542.8 553.4,543.0 551.8,543.2 550.3,543.4 548.8,543.6 547.4,543.9 546.0,544.2 544.6,544.5 543.3,544.9 542.1,545.3 540.8,545.7 539.7,546.1 538.5,546.6 537.4,547.0 536.3,547.5 535.3,548.0 534.3,548.5 533.3,549.0 532.4,549.5 531.5,550.0 530.6,550.6 529.7,551.1 528.8,551.6 528.0,552.1 527.2,552.6 526.3,553.1 525.5,553.6 524.7,554.1 523.9,554.6 523.1,555.1 522.2,555.5 521.4,556.0 520.6,556.4 519.7,556.8 518.8,557.2 517.9,557.6 517.0,558.0 516.0,558.3 515.0,558.6 514.0,558.9 513.0,559.2 511.9,559.4 510.8,559.7 509.6,560.0 508.5,560.2 507.2,560.4 506.0,560.6 504.7,560.8 503.3,561.0 501.9,561.2 500.4,561.3 498.9,561.5 497.3,561.6 495.7,561.7 494.0,561.8 492.2,562.2 490.4,563.0 488.5,565.6" fill="#6f9fd7"/>
<polygon points="387.0,606.5 390.0,608.4 392.3,608.4 394.3,607.9 396.2,607.2 398.0,606.5 399.7,605.7 401.4,604.9 403.0,604.2 404.6,603.4 406.1,602.7 407.6,602.0 409.0,601.2 410.4,600.5 411.7,599.8 413.0,599.1 414.3,598.4 415.5,597.7 416.7,597.0 417.8,596.3 419.0,595.6 420.1,595.0 421.1,594.4 422.2,593.8 423.2,593.2 424.3,592.7 425.3,592.2 426.3,591.7 427.3,591.2 428.2,590.7 429.2,590.3 430.2,589.9 431.1,589.6 432.0,589.2 433.0,588.9 433.9,588.6 434.8,588.3 435.8,588.0 436.7,587.8 437.6,587.6 438.5,587.4 439.5,587.2 440.5,587.1 441.4,586.9 442.4,586.8 443.4,586.7 444.5,586.6 445.6,586.5 446.7,586.5 447.8,586.4 449.0,586.4 450.2,586.4 451.5,586.4 452.8,586.4 454.2,586.4 455.6,586.5 457.1,586.6 458.7,586.7 460.3,586.8 462.0,587.0 463.7,587.1 465.6,586.9 467.6,586.4 469.8,585.4 472.5,582.0 472.5,582.0 471.0,577.8 469.1,576.2 467.2,575.2 465.3,574.5 463.4,574.1 461.5,573.9 459.7,573.7 458.0,573.6 456.2,573.5 454.6,573.5 452.9,573.4 451.3,573.5 449.8,573.5 448.3,573.6 446.8,573.8 445.4,574.0 444.0,574.2 442.7,574.5 441.3,574.8 440.1,575.1 438.8,575.4 437.6,575.8 436.4,576.3 435.2,576.7 434.1,577.2 433.0,577.7 431.9,578.2 430.9,578.7 429.8,579.3 428.8,579.9 427.8,580.5 426.8,581.1 425.9,581.7 424.9,582.3 423.9,582.9 423.0,583.5 422.0,584.2 421.0,584.8 420.0,585.5 419.0,586.1 418.0,586.8 417.0,587.4 416.0,588.1 414.9,588.7 413.8,589.4 412.7,590.1 411.5,590.7 410.3,591.4 409.1,592.1 407.9,592.7 406.6,593.4 405.3,594.1 403.9,594.8 402.5,595.5 401.1,596.2 399.6,597.0 398.0,597.7 396.4,598.4 394.8,599.1 393.1,599.8 391.3,600.6 389.6,601.6 388.0,603.1 387.0,606.5" fill="#6f9fd7"/>
<polygon points="384.0,645.5 386.4,647.3 388.2,647.5 389.8,647.3 391.2,647.0 392.6,646.4 393.9,645.9 395.1,645.3 396.4,644.7 397.5,644.2 398.7,643.6 399.8,643.1 400.8,642.6 401.8,642.0 402.8,641.5 403.8,641.0 404.7,640.4 405.6,639.9 406.5,639.4 407.3,638.9 408.2,638.4 409.0,638.0 409.8,637.5 410.5,637.1 411.3,636.7 412.0,636.3 412.8,635.9 413.5,635.5 414.2,635.2 415.0,634.8 415.7,634.5 416.4,634.2 417.1,633.9 417.7,633.7 418.4,633.4 419.1,633.2 419.8,632.9 420.5,632.7 421.2,632.5 421.8,632.3 422.5,632.1 423.2,632.0 423.9,631.8 424.7,631.7 425.4,631.5 426.1,631.4 426.9,631.2 427.7,631.1 428.5,631.0 429.4,630.8 430.2,630.7 431.2,630.6 432.1,630.4 433.1,630.3 434.1,630.2 435.2,630.1 436.3,629.9 437.4,629.8 438.6,629.7 439.9,629.4 441.2,629.0 442.5,628.4 443.9,627.6 445.4,626.4 447.0,623.0 447.0,623.0 445.4,619.6 443.8,618.4 442.2,617.7 440.7,617.2 439.2,616.9 437.8,616.8 436.4,616.9 435.0,617.0 433.7,617.1 432.5,617.3 431.2,617.5 430.0,617.7 428.9,617.9 427.8,618.2 426.7,618.4 425.6,618.7 424.6,619.1 423.6,619.4 422.7,619.8 421.7,620.1 420.8,620.5 419.9,620.9 419.1,621.4 418.3,621.8 417.5,622.3 416.7,622.7 415.9,623.2 415.2,623.7 414.5,624.2 413.8,624.7 413.1,625.2 412.4,625.7 411.7,626.2 411.0,626.7 410.4,627.2 409.7,627.7 409.0,628.2 408.3,628.7 407.7,629.1 407.0,629.6 406.2,630.1 405.5,630.6 404.8,631.1 404.0,631.6 403.2,632.1 402.4,632.5 401.6,633.0 400.8,633.5 399.9,634.0 399.0,634.5 398.1,635.0 397.1,635.5 396.1,636.0 395.1,636.5 394.1,637.0 393.0,637.5 391.8,638.0 390.7,638.5 389.5,639.1 388.2,639.6 387.0,640.4 385.8,641.3 384.6,642.6 384.0,645.5" fill="#6f9fd7"/>
<polygon points="294.0,647.0 295.3,648.9 296.6,649.5 297.8,649.8 299.1,649.9 300.2,649.8 301.3,649.7 302.4,649.6 303.5,649.5 304.5,649.4 305.5,649.2 306.5,649.1 307.4,648.9 308.3,648.7 309.2,648.5 310.0,648.3 310.8,648.1 311.6,647.9 312.4,647.7 313.2,647.4 313.9,647.2 314.6,646.9 315.3,646.7 316.0,646.4 316.7,646.2 317.3,646.0 318.0,645.7 318.6,645.5 319.2,645.2 319.9,645.0 320.5,644.8 321.1,644.5 321.7,644.3 322.3,644.1 322.9,643.9 323.5,643.7 324.0,643.4 324.6,643.2 325.2,643.0 325.8,642.8 326.4,642.7 327.0,642.5 327.6,642.3 328.2,642.1 328.9,641.9 329.5,641.8 330.1,641.6 330.8,641.5 331.5,641.3 332.2,641.1 332.9,641.0 333.7,640.9 334.5,640.7 335.3,640.6 336.1,640.5 337.0,640.3 337.9,640.2 338.8,640.1 339.8,640.0 340.8,639.9 341.8,639.7 342.9,639.3 344.1,638.8 345.2,637.9 346.5,635.5 346.5,635.5 345.2,633.1 343.9,632.3 342.6,631.8 341.4,631.6 340.2,631.5 339.0,631.6 337.9,631.7 336.9,631.8 335.8,631.9 334.8,632.1 333.8,632.2 332.9,632.4 332.0,632.6 331.1,632.8 330.2,633.1 329.4,633.3 328.6,633.6 327.8,633.8 327.0,634.1 326.3,634.4 325.6,634.7 324.9,635.0 324.2,635.3 323.5,635.6 322.9,635.9 322.3,636.3 321.7,636.6 321.1,636.9 320.5,637.2 319.9,637.6 319.4,637.9 318.8,638.2 318.3,638.5 317.7,638.8 317.2,639.1 316.6,639.4 316.1,639.7 315.5,640.0 314.9,640.3 314.4,640.5 313.8,640.8 313.2,641.0 312.6,641.3 312.0,641.5 311.3,641.7 310.7,641.9 310.0,642.1 309.3,642.3 308.6,642.5 307.8,642.7 307.1,642.8 306.3,643.0 305.4,643.1 304.6,643.3 303.7,643.4 302.8,643.5 301.8,643.6 300.8,643.7 299.8,643.8 298.7,643.9 297.6,644.1 296.5,644.4 295.3,645.1 294.0,647.0" fill="#6f9fd7"/>
<polygon points="262.5,683.0 264.3,684.0 265.5,684.1 266.5,683.9 267.5,683.6 268.3,683.2 269.1,682.7 269.9,682.2 270.6,681.7 271.3,681.2 271.9,680.7 272.6,680.3 273.2,679.8 273.8,679.3 274.3,678.9 274.9,678.4 275.4,678.0 276.0,677.6 276.5,677.1 277.0,676.7 277.4,676.3 277.9,675.9 278.4,675.6 278.8,675.2 279.3,674.9 279.7,674.5 280.2,674.2 280.6,673.9 281.0,673.7 281.4,673.4 281.9,673.2 282.3,672.9 282.7,672.7 283.1,672.5 283.5,672.3 283.9,672.2 284.3,672.0 284.7,671.9 285.1,671.7 285.5,671.6 285.9,671.5 286.3,671.4 286.7,671.3 287.1,671.2 287.5,671.1 288.0,671.0 288.4,670.9 288.9,670.8 289.3,670.7 289.8,670.6 290.3,670.6 290.9,670.5 291.4,670.4 292.0,670.3 292.6,670.2 293.2,670.1 293.9,670.0 294.6,669.9 295.3,669.7 296.1,669.4 296.9,669.0 297.7,668.5 298.6,667.9 299.5,666.9 300.5,664.5 300.5,664.5 299.5,662.1 298.4,661.2 297.4,660.6 296.4,660.2 295.5,659.9 294.6,659.7 293.6,659.6 292.8,659.6 291.9,659.7 291.1,659.8 290.3,660.0 289.5,660.1 288.7,660.3 288.0,660.5 287.3,660.7 286.6,661.0 285.9,661.2 285.3,661.5 284.6,661.8 284.0,662.1 283.4,662.4 282.9,662.7 282.3,663.1 281.8,663.4 281.3,663.8 280.8,664.2 280.3,664.6 279.8,664.9 279.4,665.3 278.9,665.7 278.5,666.1 278.1,666.5 277.7,666.9 277.3,667.3 276.9,667.8 276.5,668.2 276.1,668.6 275.7,669.0 275.3,669.4 274.9,669.8 274.5,670.2 274.1,670.6 273.6,671.0 273.2,671.4 272.7,671.8 272.3,672.2 271.8,672.6 271.3,673.0 270.8,673.4 270.3,673.8 269.8,674.2 269.2,674.6 268.6,675.1 268.1,675.5 267.5,675.9 266.8,676.4 266.2,676.8 265.5,677.3 264.8,677.8 264.2,678.4 263.5,679.1 263.0,679.9 262.5,680.9 262.5,683.0" fill="#6f9fd7"/>
<polygon points="334.5,684.5 336.2,687.0 337.9,687.8 339.5,688.2 341.0,688.4 342.5,688.3 344.0,688.3 345.4,688.2 346.7,688.1 348.0,688.0 349.3,687.9 350.5,687.8 351.7,687.7 352.9,687.6 354.0,687.4 355.1,687.3 356.2,687.1 357.2,687.0 358.2,686.8 359.2,686.6 360.2,686.5 361.1,686.3 362.0,686.1 362.9,685.9 363.8,685.8 364.6,685.6 365.5,685.4 366.3,685.3 367.1,685.1 368.0,685.0 368.8,684.8 369.5,684.6 370.3,684.5 371.1,684.3 371.9,684.2 372.7,684.0 373.5,683.9 374.3,683.8 375.1,683.6 375.9,683.5 376.7,683.4 377.5,683.2 378.3,683.1 379.1,683.0 380.0,682.9 380.9,682.8 381.8,682.6 382.7,682.5 383.7,682.4 384.6,682.3 385.6,682.2 386.7,682.1 387.7,682.0 388.8,681.9 390.0,681.8 391.2,681.7 392.4,681.6 393.7,681.5 395.0,681.5 396.4,681.4 397.8,681.2 399.2,680.8 400.8,680.1 402.3,679.1 404.0,676.0 404.0,676.0 402.3,672.9 400.6,671.9 399.0,671.3 397.5,671.0 395.9,670.9 394.5,671.0 393.1,671.0 391.7,671.1 390.4,671.2 389.1,671.3 387.8,671.4 386.6,671.6 385.5,671.7 384.3,671.9 383.2,672.1 382.1,672.2 381.1,672.4 380.1,672.6 379.1,672.9 378.2,673.1 377.2,673.3 376.3,673.5 375.4,673.8 374.6,674.0 373.7,674.3 372.9,674.5 372.1,674.8 371.3,675.0 370.5,675.3 369.7,675.5 368.9,675.8 368.2,676.0 367.4,676.3 366.6,676.5 365.9,676.7 365.1,677.0 364.4,677.2 363.6,677.4 362.8,677.6 362.0,677.8 361.2,678.0 360.4,678.2 359.5,678.4 358.7,678.6 357.8,678.8 356.9,678.9 356.0,679.1 355.0,679.2 354.0,679.4 353.0,679.5 352.0,679.6 350.9,679.7 349.8,679.9 348.6,680.0 347.4,680.1 346.2,680.1 344.9,680.2 343.6,680.3 342.2,680.4 340.8,680.4 339.3,680.7 337.7,681.1 336.2,682.0 334.5,684.5" fill="#6f9fd7"/>
<polygon points="462.4,642.4 465.3,643.5 467.2,643.1 468.9,642.4 470.3,641.5 471.6,640.5 472.8,639.5 474.0,638.5 475.1,637.5 476.2,636.5 477.3,635.6 478.3,634.6 479.3,633.7 480.2,632.7 481.1,631.8 482.0,630.9 482.9,630.0 483.7,629.2 484.5,628.3 485.3,627.5 486.0,626.6 486.8,625.8 487.5,625.1 488.2,624.3 489.0,623.6 489.7,622.9 490.4,622.2 491.1,621.6 491.8,621.0 492.5,620.4 493.2,619.9 493.9,619.3 494.6,618.8 495.3,618.4 495.9,617.9 496.6,617.5 497.3,617.1 498.0,616.8 498.7,616.4 499.3,616.1 500.0,615.8 500.7,615.5 501.4,615.3 502.1,615.0 502.8,614.8 503.6,614.5 504.3,614.3 505.1,614.1 505.9,613.9 506.7,613.7 507.6,613.5 508.5,613.3 509.4,613.1 510.4,613.0 511.4,612.8 512.5,612.6 513.6,612.4 514.8,612.3 516.1,612.1 517.4,611.7 518.8,611.2 520.2,610.6 521.7,609.6 523.3,608.3 525.0,604.5 525.0,604.5 523.2,600.8 521.4,599.5 519.7,598.7 518.0,598.1 516.3,597.9 514.7,597.8 513.2,597.9 511.7,598.1 510.2,598.3 508.8,598.5 507.4,598.8 506.1,599.1 504.8,599.5 503.6,599.9 502.4,600.3 501.2,600.8 500.1,601.3 499.0,601.8 498.0,602.4 497.0,603.0 496.0,603.6 495.1,604.3 494.2,605.0 493.4,605.7 492.5,606.4 491.8,607.1 491.0,607.8 490.3,608.6 489.6,609.4 488.9,610.1 488.3,610.9 487.7,611.7 487.0,612.5 486.4,613.3 485.8,614.0 485.2,614.8 484.6,615.6 484.0,616.4 483.4,617.2 482.8,618.0 482.1,618.8 481.5,619.6 480.8,620.4 480.1,621.2 479.4,622.1 478.6,622.9 477.9,623.7 477.1,624.5 476.3,625.4 475.4,626.2 474.6,627.1 473.7,627.9 472.8,628.8 471.8,629.7 470.9,630.6 469.8,631.5 468.8,632.4 467.7,633.3 466.5,634.3 465.4,635.2 464.2,636.3 463.2,637.6 462.3,639.3 462.4,642.4" fill="#6f9fd7"/>
<polygon points="547.0,625.6 548.8,628.0 550.5,628.7 552.2,629.0 553.8,629.0 555.4,628.9 556.9,628.9 558.4,628.8 559.8,628.7 561.2,628.6 562.5,628.5 563.8,628.4 565.0,628.2 566.2,628.1 567.4,628.0 568.6,627.8 569.7,627.7 570.8,627.5 571.8,627.3 572.8,627.1 573.8,627.0 574.8,626.8 575.8,626.6 576.7,626.5 577.6,626.4 578.5,626.2 579.4,626.1 580.3,626.0 581.2,625.9 582.1,625.8 582.9,625.7 583.8,625.7 584.7,625.6 585.5,625.5 586.4,625.5 587.2,625.4 588.1,625.4 588.9,625.3 589.8,625.3 590.6,625.2 591.5,625.2 592.3,625.1 593.2,625.1 594.1,625.1 595.0,625.0 596.0,625.0 596.9,625.0 597.9,624.9 598.9,624.9 599.9,624.8 600.9,624.7 602.0,624.7 603.1,624.6 604.3,624.5 605.4,624.4 606.7,624.3 607.9,624.2 609.3,624.1 610.6,624.0 612.0,623.7 613.5,623.3 615.0,622.6 616.6,621.7 618.3,620.4 620.0,616.6 620.0,616.6 618.2,612.9 616.5,611.5 614.7,610.7 613.1,610.1 611.5,609.8 609.9,609.6 608.4,609.7 607.0,609.8 605.6,609.9 604.2,610.0 602.9,610.1 601.6,610.3 600.3,610.5 599.1,610.7 597.9,610.9 596.8,611.2 595.7,611.4 594.7,611.7 593.6,612.0 592.6,612.3 591.6,612.7 590.7,613.0 589.8,613.4 588.9,613.7 588.0,614.1 587.2,614.4 586.3,614.8 585.5,615.2 584.7,615.5 583.9,615.9 583.1,616.3 582.3,616.6 581.6,617.0 580.8,617.3 580.0,617.7 579.2,618.0 578.4,618.3 577.6,618.6 576.8,618.9 576.0,619.2 575.2,619.4 574.3,619.6 573.4,619.9 572.5,620.1 571.6,620.2 570.6,620.4 569.7,620.6 568.6,620.7 567.6,620.9 566.5,621.0 565.4,621.2 564.3,621.3 563.1,621.4 561.9,621.5 560.6,621.6 559.3,621.7 558.0,621.8 556.6,621.9 555.1,621.9 553.6,622.0 552.0,622.1 550.4,622.5 548.7,623.2 547.0,625.6" fill="#6f9fd7"/>
<polygon points="460.0,670.0 461.9,673.0 463.8,674.0 465.6,674.5 467.3,674.7 469.0,674.7 470.7,674.5 472.3,674.4 473.8,674.2 475.3,674.0 476.7,673.8 478.1,673.5 479.5,673.3 480.8,673.0 482.1,672.7 483.3,672.4 484.5,672.1 485.7,671.7 486.8,671.4 487.9,671.0 489.0,670.6 490.0,670.3 491.0,669.9 492.0,669.5 493.0,669.2 494.0,668.8 494.9,668.4 495.8,668.1 496.7,667.7 497.6,667.4 498.5,667.0 499.4,666.7 500.3,666.3 501.1,666.0 502.0,665.7 502.8,665.4 503.7,665.1 504.5,664.8 505.4,664.5 506.2,664.2 507.1,663.9 507.9,663.7 508.8,663.4 509.7,663.2 510.6,662.9 511.5,662.7 512.4,662.5 513.3,662.2 514.3,662.0 515.3,661.8 516.3,661.6 517.4,661.4 518.4,661.2 519.6,661.0 520.8,660.8 522.0,660.6 523.2,660.4 524.6,660.3 525.9,660.1 527.4,659.8 528.8,659.4 530.4,658.7 532.0,657.8 533.7,656.4 535.5,652.5 535.5,652.5 533.6,648.7 531.7,647.3 529.9,646.5 528.1,646.0 526.3,645.8 524.6,645.7 523.0,645.9 521.4,646.1 519.9,646.3 518.4,646.5 517.0,646.8 515.6,647.0 514.2,647.4 512.9,647.7 511.7,648.1 510.5,648.4 509.3,648.9 508.1,649.3 507.0,649.7 505.9,650.2 504.9,650.7 503.9,651.1 502.9,651.6 502.0,652.1 501.1,652.6 500.2,653.1 499.3,653.7 498.5,654.2 497.6,654.7 496.8,655.2 496.0,655.7 495.2,656.2 494.4,656.7 493.7,657.1 492.9,657.6 492.1,658.1 491.3,658.5 490.5,658.9 489.8,659.4 488.9,659.8 488.1,660.2 487.3,660.5 486.4,660.9 485.6,661.2 484.6,661.6 483.7,661.9 482.8,662.2 481.8,662.5 480.8,662.7 479.7,663.0 478.6,663.2 477.5,663.5 476.3,663.7 475.1,663.9 473.8,664.1 472.5,664.3 471.2,664.4 469.8,664.6 468.3,664.7 466.8,664.9 465.2,665.3 463.5,665.9 461.8,667.0 460.0,670.0" fill="#6f9fd7"/>
<g id="mosquito">
<path d="M117.5,633 C112,620 113,600 121,583 C126,572 133,564 139,564.5 C146,565 146.5,576 143.5,588 C142.5,592 142,595 142.3,596.5 C148,588 158,578 168,575.5 C176,573.5 180,578 177,587 C173,599 160,613 147,624 C140,630 130,636.5 122,636.5 Z" fill="#aac7da"/>
<path d="M88,643 L92.8,653.6 L64,675.2 L62.2,677" fill="none" stroke="#8a6443" stroke-width="2.7" stroke-linecap="round" stroke-linejoin="round"/>
<path d="M102.4,645.6 L110.4,658.4 L88,682.4 L85.4,683" fill="none" stroke="#8a6443" stroke-width="2.7" stroke-linecap="round" stroke-linejoin="round"/>
<path d="M116.8,636 L110.6,623.5 Q109.8,621.5 109.8,624 L110.4,646.4 L108,682.4 L101.6,683" fill="none" stroke="#8a6443" stroke-width="2.7" stroke-linecap="round" stroke-linejoin="round"/>
<path d="M120,637.6 Q126.5,626 128.5,628 Q131.5,631 134.4,642.4 L134.4,654.4 L128.8,681.6 L123.2,683" fill="none" stroke="#8a6443" stroke-width="2.7" stroke-linecap="round" stroke-linejoin="round"/>
<path d="M138.4,643.2 Q140.5,631.5 141.8,632.8 Q143.5,634 146.4,646.4" fill="none" stroke="#8a6443" stroke-width="2.7" stroke-linecap="round" stroke-linejoin="round"/>
<path d="M136,656 L138.4,683.2 L145.6,688" fill="none" stroke="#8a6443" stroke-width="2.7" stroke-linecap="round" stroke-linejoin="round"/>
<path d="M150.4,652.8 L161.6,634.4 L172,686.4 L180.8,687.7" fill="none" stroke="#8a6443" stroke-width="2.7" stroke-linecap="round" stroke-linejoin="round"/>
<path d="M72.5,637.5 L48.7,669.5 Q48,673.2 51.8,672.8 L77.5,641.5 Z" fill="#8a6443" stroke="#8a6443" stroke-width="1" stroke-linejoin="round"/>
<path d="M99,633.5 C112,635.5 136,642.5 147.5,648 C152.5,650.5 151.5,656.5 145.5,656.5 C131,655.5 110,649 98,644 Z" fill="#8a6443"/>
<ellipse cx="92.8" cy="639.2" rx="7.6" ry="5.8" fill="#8a6443" transform="rotate(15 92.8 639.2)"/>
<circle cx="77.6" cy="633.8" r="5.2" fill="#8a6443"/>
<path d="M80,631 L90,636 L88,642 L79,638 Z" fill="#8a6443"/>
<circle cx="72.8" cy="630.3" r="3" fill="#3b2a22"/>
<circle cx="79.7" cy="637.1" r="3" fill="#3b2a22"/>
</g>
</svg>
</body></html>
